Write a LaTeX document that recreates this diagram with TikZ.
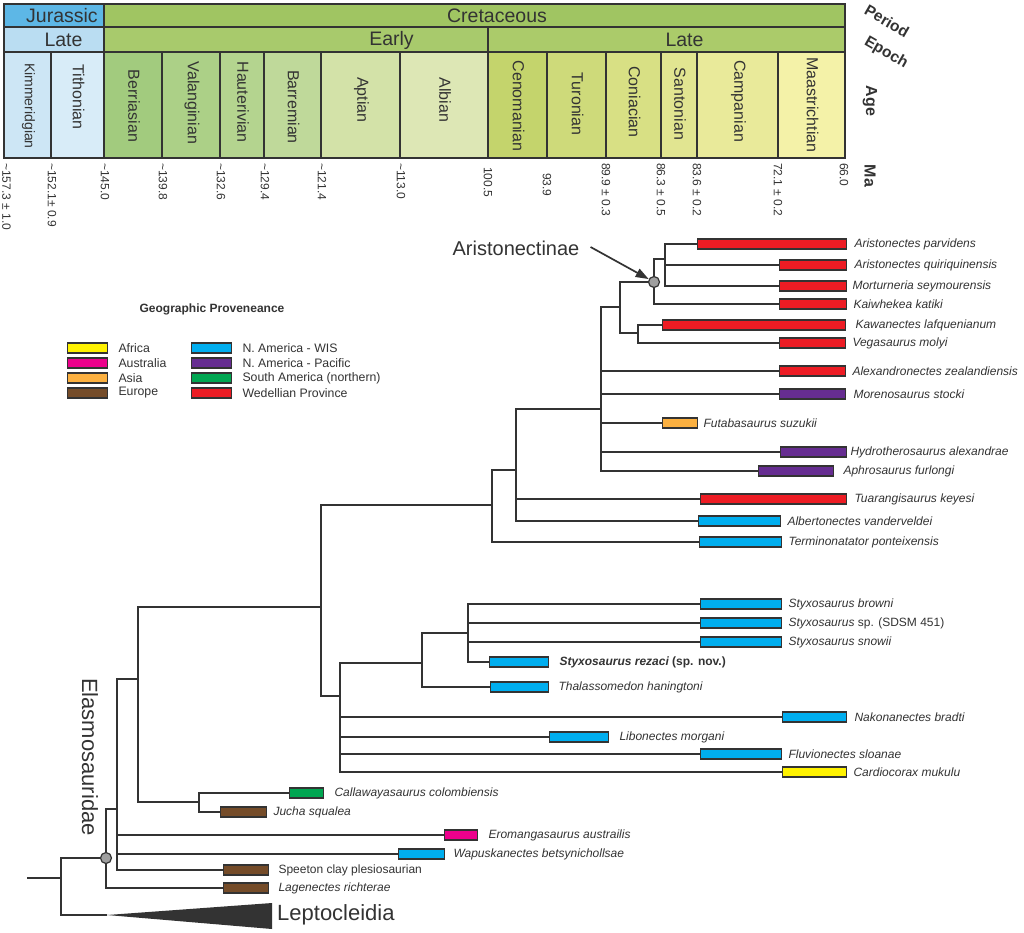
\documentclass[tikz,border=0pt]{standalone}
\usepackage{fontspec}
\setmainfont{Liberation Sans}
\usetikzlibrary{arrows.meta}
\newcommand{\fsz}[1]{\fontsize{#1}{#1}\selectfont}
\definecolor{ink}{HTML}{333333}
\definecolor{jur}{HTML}{5DB7E6}
\definecolor{ljur}{HTML}{BADDF2}
\definecolor{cre}{HTML}{A0C562}
\definecolor{ecre}{HTML}{A8CA6C}
\definecolor{lcre}{HTML}{ABCB6A}
\definecolor{ckim}{HTML}{CDE6F5}
\definecolor{ctit}{HTML}{D8ECF8}
\definecolor{cber}{HTML}{A2CB7E}
\definecolor{cval}{HTML}{ACD087}
\definecolor{chau}{HTML}{B4D48F}
\definecolor{cbar}{HTML}{BFD99A}
\definecolor{capt}{HTML}{D3E2A8}
\definecolor{calb}{HTML}{DDE7B5}
\definecolor{ccen}{HTML}{C4D46C}
\definecolor{ctur}{HTML}{CEDA7A}
\definecolor{ccon}{HTML}{D8E084}
\definecolor{csan}{HTML}{E1E591}
\definecolor{ccam}{HTML}{E9EA9A}
\definecolor{cmaa}{HTML}{F4F2A8}
\definecolor{afr}{HTML}{FFF200}
\definecolor{aus}{HTML}{EC008C}
\definecolor{asia}{HTML}{FBB040}
\definecolor{eur}{HTML}{754C29}
\definecolor{wis}{HTML}{00AEEF}
\definecolor{pac}{HTML}{662D91}
\definecolor{sam}{HTML}{00A651}
\definecolor{wed}{HTML}{ED1C24}
\begin{document}
\begin{tikzpicture}[x=1pt,y=-1pt,
    cell/.style={draw=ink,line width=1.5pt},
    headtext/.style={text=ink,inner sep=0pt,font=\fsz{19.5}},
    agetext/.style={text=ink,inner sep=0pt,rotate=-90},
    matext/.style={text=ink,inner sep=0pt,rotate=-90,anchor=west,font=\fsz{12}},
    axistext/.style={text=ink,inner sep=0pt,font=\bfseries\fsz{16}},
    branch/.style={draw=ink,line width=1.7pt},
    rangebar/.style={draw=ink,line width=1.3pt,minimum height=10pt,inner sep=0pt,anchor=west},
    taxon/.style={text=ink,inner sep=0pt,anchor=west,font=\fsz{12}\itshape},
    keytext/.style={text=ink,inner sep=0pt,anchor=west,font=\fsz{12.3}},
    cladedot/.style={circle,draw=ink,fill=gray!75,line width=1.2pt,minimum size=11pt,inner sep=0pt},
    pointer/.style={draw=ink,line width=1.7pt,-{Triangle[length=13pt,width=9pt]}}]
    \useasboundingbox[fill=white] (0,0) rectangle (1024,932);

    \filldraw[cell,fill=jur] (4,4) rectangle (104,27);
    \filldraw[cell,fill=cre] (104,4) rectangle (845,27);
    \filldraw[cell,fill=ljur] (4,27) rectangle (104,52);
    \filldraw[cell,fill=ecre] (104,27) rectangle (488,52);
    \filldraw[cell,fill=lcre] (488,27) rectangle (845,52);
    \node[headtext] (jurassic) at (62,15.5) {Jurassic};
    \node[headtext] (cretaceous) at (497,15.5) {Cretaceous};
    \node[headtext] (latej) at (63.5,40) {Late};
    \node[headtext] (early) at (391.5,40) {Early};
    \node[headtext] (latek) at (684.5,40) {Late};

    \foreach [count=\i] \a/\b/\c/\t/\yc/\s in {4/51/ckim/Kimmeridgian/106/14,51/104/ctit/Tithonian/97/16,104/162/cber/Berriasian/106/16,162/220/cval/Valanginian/103/16,220/264/chau/Hauterivian/102/16,264/321/cbar/Barremian/107/16,321/400/capt/Aptian/100/16,400/488/calb/Albian/100/16,488/547/ccen/Cenomanian/106/16,547/606/ctur/Turonian/104/16,606/661/ccon/Coniacian/102/16,661/697/csan/Santonian/104/16,697/778/ccam/Campanian/101/16,778/845/cmaa/Maastrichtian/105/16}{
        \filldraw[cell,fill=\c] (\a,52) rectangle (\b,158);
        \node[agetext,font=\fsz{\s}] (age\i) at ({(\a+\b)/2+1},\yc) {\t};
    }

    \foreach [count=\i] \x/\t/\y in {6.5/{\textasciitilde157.3 ± 1.0}/163,52/{\textasciitilde152.1± 0.9}/163,105/{\textasciitilde145.0}/163,163/{\textasciitilde139.8}/163,221/{\textasciitilde132.6}/163,265/{\textasciitilde129.4}/163,322/{\textasciitilde121.4}/163,401/{\textasciitilde113.0}/163,488/100.5/167,547/93.9/173,606/{89.9 ± 0.3}/163,661/{86.3 ± 0.5}/163,697/{83.6 ± 0.2}/163,778/{72.1 ± 0.2}/163,844/66.0/163}{
        \node[matext] (ma\i) at (\x,\y) {\t};
    }

    \node[axistext,font=\bfseries\fsz{15.5},rotate=-30] (period) at (887,21) {Period};
    \node[axistext,font=\bfseries\fsz{15.5},rotate=-30] (epoch) at (886,53) {Epoch};
    \node[axistext,rotate=-90] (agehead) at (870,101) {Age};
    \node[axistext,rotate=-90] (mahead) at (870,176) {Ma};

    \node[text=ink,font=\bfseries\fsz{12}] (legtitle) at (212,309) {Geographic Proveneance};
    \foreach \bx/\y/\c/\t in {67/348/afr/Africa,67/363/aus/Australia,67/378/asia/Asia,67/393/eur/Europe,191/348/wis/N. America - WIS,191/363/pac/N. America - Pacific,191/378/sam/South America (northern),191/393/wed/Wedellian Province}{
        \node[rangebar,fill=\c,minimum width=40pt] (key-\c) at (\bx,\y) {};
        \node[keytext] (key-\c-name) at ([xshift=10pt]key-\c.east) {\t};
    }

    \foreach \n/\y/\a/\b/\c/\g/\t in {parv/244/697/846/wed/7/Aristonectes parvidens,quir/265/779/846/wed/7/Aristonectes quiriquinensis,mort/286/779/846/wed/5/Morturneria seymourensis,kaiw/304/779/846/wed/6/Kaiwhekea katiki,kawa/325/662/845/wed/9/Kawanectes lafquenianum,vega/343/779/845/wed/6/Vegasaurus molyi,alex/371/779/845/wed/6/Alexandronectes zealandiensis,more/394/779/845/pac/7/Morenosaurus stocki,futa/423/662/697/asia/5/Futabasaurus suzukii,hydr/452/780/846/pac/3/Hydrotherosaurus alexandrae,aphr/471/758/833/pac/9/Aphrosaurus furlongi,tuar/499/700/846/wed/7/Tuarangisaurus keyesi,albe/521/698/780/wis/6/Albertonectes vanderveldei,term/542/699/781/wis/6/Terminonatator ponteixensis,brow/604/700/781/wis/6/Styxosaurus browni,sdsm/623/700/781/wis/6/{Styxosaurus \upshape sp. (SDSM 451)},snow/642/700/781/wis/6/Styxosaurus snowii,reza/662/489/548/wis/10/{\bfseries Styxosaurus rezaci \upshape(sp. nov.)},thal/687/490/548/wis/9/Thalassomedon haningtoni,nako/717/782/846/wis/7/Nakonanectes bradti,libo/737/549/608/wis/10/Libonectes morgani,fluv/754/700/781/wis/6/Fluvionectes sloanae,card/772/782/846/afr/6/Cardiocorax mukulu,call/793/289/323/sam/10/Callawayasaurus colombiensis,juch/812/220/266/eur/6/Jucha squalea,erom/835/444/477/aus/10/Eromangasaurus austrailis,wapu/854/398/444/wis/8/Wapuskanectes betsynichollsae,spee/870/223/268/eur/9/{\upshape Speeton clay plesiosaurian},lage/888/223/268/eur/9/Lagenectes richterae}{
        \node[rangebar,fill=\c,minimum width={(\b-\a)*1pt}] (\n) at (\a,\y) {};
        \node[taxon] (\n-name) at ([xshift=\g pt]\n.east) {\t};
    }

    \coordinate (root) at (27,878);
    \coordinate (n0) at (61,878);
    \coordinate (lept) at (107,915);
    \coordinate (elas) at (106,858);
    \coordinate (n2) at (117,809);
    \coordinate (n3) at (138,679);
    \coordinate (callj) at (199,802);
    \coordinate (n4) at (321,607);
    \coordinate (n5) at (492,505);
    \coordinate (n6) at (516,470);
    \coordinate (n7) at (601,409);
    \coordinate (n8) at (620,307);
    \coordinate (arist) at (654,282);
    \coordinate (n11) at (665,259);
    \coordinate (n9) at (638,333);
    \coordinate (n10) at (340,696);
    \coordinate (n12) at (422,663);
    \coordinate (n13) at (468,633);

    \draw[branch] (root) -- (n0);
    \foreach \p/\c in {n0/lept,n0/elas,elas/n2,elas/lage.west,n2/n3,n2/erom.west,n2/wapu.west,n2/spee.west,n3/n4,n3/callj,callj/call.west,callj/juch.west,n4/n5,n4/n10,n5/n6,n5/term.west,n6/n7,n6/tuar.west,n6/albe.west,n7/n8,n7/alex.west,n7/more.west,n7/futa.west,n7/hydr.west,n7/aphr.west,n8/arist,n8/n9,arist/n11,arist/kaiw.west,n11/parv.west,n11/quir.west,n11/mort.west,n9/kawa.west,n9/vega.west,n10/n12,n10/nako.west,n10/libo.west,n10/fluv.west,n10/card.west,n12/n13,n12/thal.west,n13/brow.west,n13/sdsm.west,n13/snow.west,n13/reza.west}{
        \draw[branch] (\p) |- (\c);
    }

    \fill[ink] (lept) -- (272,903) -- (272,929) -- cycle;
    \node[text=ink,anchor=west,inner sep=0pt,font=\fsz{22}] (leptname) at (277,915) {Leptocleidia};

    \node[cladedot] (elasdot) at (elas) {};
    \node[cladedot] (aristdot) at (arist) {};
    \node[text=ink,inner sep=0pt,rotate=-90,font=\fsz{22}] (elasname) at (90,757) {Elasmosauridae};
    \node[text=ink,inner sep=0pt,font=\fsz{20}] (aristname) at (516,248) {Aristonectinae};
    \draw[pointer] ([xshift=11pt,yshift=1pt]aristname.east) -- (aristdot);
\end{tikzpicture}
\end{document}
